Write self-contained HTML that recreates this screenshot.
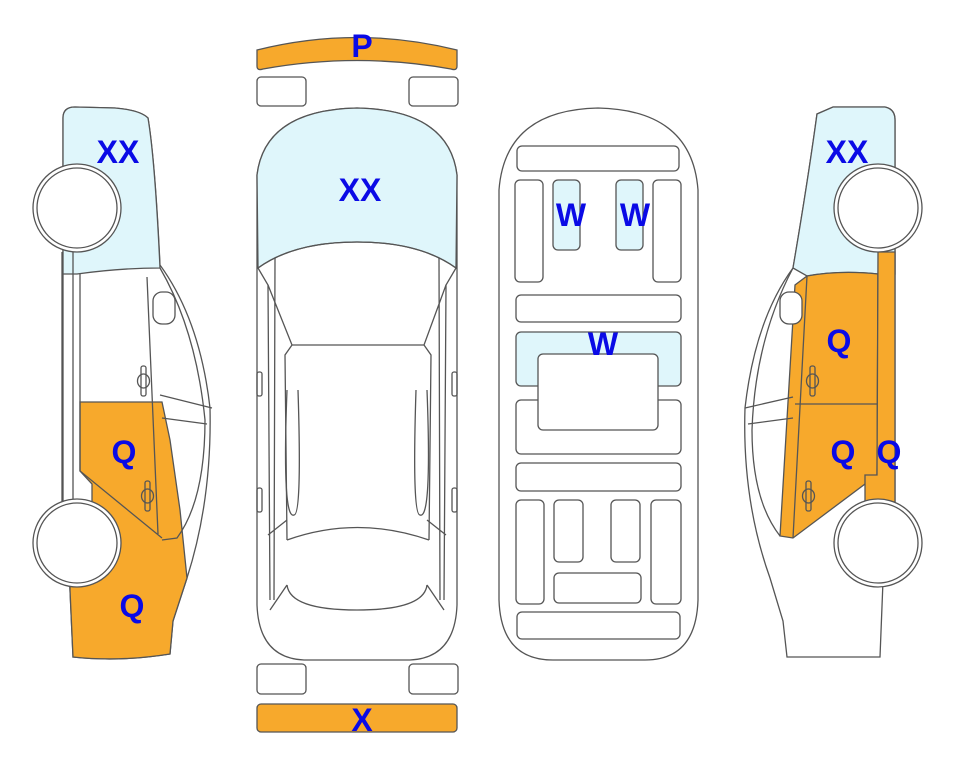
<!DOCTYPE html>
<html><head><meta charset="utf-8"><style>
html,body{margin:0;padding:0;background:#fff;}
svg{display:block;}
text{font-family:"Liberation Sans",sans-serif;font-weight:bold;fill:#0a0ae6;font-size:32px;text-anchor:middle;}
</style></head><body>
<svg width="963" height="768" viewBox="0 0 963 768" xmlns="http://www.w3.org/2000/svg">
<g stroke="#555" stroke-width="1.3" fill="none">

<!-- LEFT CAR -->
<path d="M63,118 Q63,107 75,107 L115,108 Q140,110 148,118 Q155,160 160,265 Q200,320 210,408 Q212,500 187,578 L173,621 L170,654 Q120,662 73,657 L70,590 L63,505 Z" fill="#fff"/>
<path d="M63,118 Q63,107 75,107 L115,108 Q140,110 148,118 Q155,160 160,268 Q120,268 77,274 L63,274 Z" fill="#dff6fb"/>
<path d="M80,402 L162,402 L170,440 L180,510 L187,578 L173,621 L170,654 Q120,662 73,657 L70,590 L72,505 L92,505 L92,484 L80,471 Z" fill="#f7a92c"/>
<path d="M62,252 L62,502 M73,252 L73,502 M80,274 L80,471 L162,538 M147,277 L158,534"/>
<path d="M160,268 Q196,330 205,420 Q205,500 177,538 L162,540"/>
<path d="M160,395 L212,408 M162,418 L207,424"/>
<rect x="153" y="292" width="22" height="32" rx="9" fill="#fff"/>
<rect x="141" y="366" width="5" height="30" rx="2"/><ellipse cx="143.5" cy="381" rx="6" ry="7"/>
<rect x="145" y="481" width="5" height="30" rx="2"/><ellipse cx="147.5" cy="496" rx="6" ry="7"/>
<circle cx="77" cy="208" r="44" fill="#fff"/><circle cx="77" cy="208" r="40" fill="#fff"/>
<circle cx="77" cy="543" r="44" fill="#fff"/><circle cx="77" cy="543" r="40" fill="#fff"/>

<!-- RIGHT CAR -->
<path d="M833,107 L885,107 Q895,109 895,120 L895,502 L883,581 L880,657 L787,657 L783,621 L770,578 Q742,500 745,408 Q755,320 793,268 Q808,180 817,114 Z" fill="#fff"/>
<path d="M833,107 L885,107 Q895,109 895,120 L895,274 L878,274 Q840,270 807,276 L793,268 Q808,180 817,114 Z" fill="#dff6fb"/>
<path d="M807,276 Q840,270 878,274 L877,475 L793,538 L780,536 L795,285 Z" fill="#f7a92c"/>
<path d="M878,252 L895,252 L895,502 L865,502 L865,475 L877,475 Z" fill="#f7a92c"/>
<path d="M795,404 L877,404 M807,276 L793,538"/>
<path d="M793,268 Q755,340 752,430 Q752,500 780,536"/>
<path d="M745,408 L793,397 M748,424 L793,418"/>
<rect x="780" y="292" width="22" height="32" rx="9" fill="#fff"/>
<rect x="810" y="366" width="5" height="30" rx="2"/><ellipse cx="812.5" cy="381" rx="6" ry="7"/>
<rect x="806" y="481" width="5" height="30" rx="2"/><ellipse cx="808.5" cy="496" rx="6" ry="7"/>
<circle cx="878" cy="208" r="44" fill="#fff"/><circle cx="878" cy="208" r="40" fill="#fff"/>
<circle cx="878" cy="543" r="44" fill="#fff"/><circle cx="878" cy="543" r="40" fill="#fff"/>

<!-- CENTER CAR -->
<path d="M257,50 Q357,25 457,50 L457,66 Q457,71 451,69 Q357,52 263,69 Q257,71 257,66 Z" fill="#f7a92c"/>
<rect x="257" y="77" width="49" height="29" rx="4"/>
<rect x="409" y="77" width="49" height="29" rx="4"/>
<path d="M257,175 Q265,110 357,108 Q449,110 457,175 L457,605 Q455,658 410,660 L304,660 Q259,658 257,605 Z" fill="#fff"/>
<path d="M257,175 Q265,110 357,108 Q449,110 457,175 L456,268 Q420,242 357,242 Q294,242 258,268 Z" fill="#dff6fb"/>
<path d="M258,268 Q294,242 357,242 Q420,242 456,268"/>
<path d="M258,268 L268,285 L270,600 M456,268 L446,285 L444,600 M275,258 L274,600 M439,258 L440,600"/>
<path d="M268,285 L292,345 L424,345 L446,285 M292,345 L285,355 L287,540 M424,345 L431,355 L429,540"/>
<path d="M287,540 Q357,515 429,540 M287,585 Q290,610 357,610 Q424,610 427,585"/>
<path d="M268,535 L287,520 M446,535 L427,520 M270,610 L287,585 M444,610 L427,585"/>
<path d="M287,390 Q282,520 294,515 Q302,515 298,390 M427,390 Q432,520 420,515 Q412,515 416,390"/>
<rect x="257" y="372" width="5" height="24" rx="2"/><rect x="452" y="372" width="5" height="24" rx="2"/>
<rect x="257" y="488" width="5" height="24" rx="2"/><rect x="452" y="488" width="5" height="24" rx="2"/>
<rect x="257" y="664" width="49" height="30" rx="4"/>
<rect x="409" y="664" width="49" height="30" rx="4"/>
<rect x="257" y="704" width="200" height="28" rx="4" fill="#f7a92c"/>

<!-- INTERIOR -->
<path d="M499,190 Q505,110 598,108 Q692,110 698,190 L698,600 Q696,660 645,660 L553,660 Q501,660 499,600 Z" fill="#fff"/>
<rect x="517" y="146" width="162" height="25" rx="5"/>
<rect x="515" y="180" width="28" height="102" rx="5"/>
<rect x="553" y="180" width="27" height="70" rx="5" fill="#dff6fb"/>
<rect x="616" y="180" width="27" height="70" rx="5" fill="#dff6fb"/>
<rect x="653" y="180" width="28" height="102" rx="5"/>
<rect x="516" y="295" width="165" height="27" rx="5"/>
<rect x="516" y="332" width="165" height="54" rx="5" fill="#dff6fb"/>
<rect x="516" y="400" width="165" height="54" rx="5"/>
<rect x="538" y="354" width="120" height="76" rx="5" fill="#fff"/>
<rect x="516" y="463" width="165" height="28" rx="5"/>
<rect x="516" y="500" width="28" height="104" rx="5"/>
<rect x="554" y="500" width="29" height="62" rx="5"/>
<rect x="611" y="500" width="29" height="62" rx="5"/>
<rect x="651" y="500" width="30" height="104" rx="5"/>
<rect x="554" y="573" width="87" height="30" rx="5"/>
<rect x="517" y="612" width="163" height="27" rx="5"/>
</g>
<text x="118" y="163">XX</text>
<text x="124" y="463">Q</text>
<text x="132" y="617">Q</text>
<text x="360" y="201">XX</text>
<text x="362" y="57">P</text>
<text x="362" y="731">X</text>
<text x="571" y="226">W</text>
<text x="635" y="226">W</text>
<text x="603" y="355">W</text>
<text x="847" y="163">XX</text>
<text x="839" y="352">Q</text>
<text x="843" y="463">Q</text>
<text x="889" y="463">Q</text>
</svg>
</body></html>
